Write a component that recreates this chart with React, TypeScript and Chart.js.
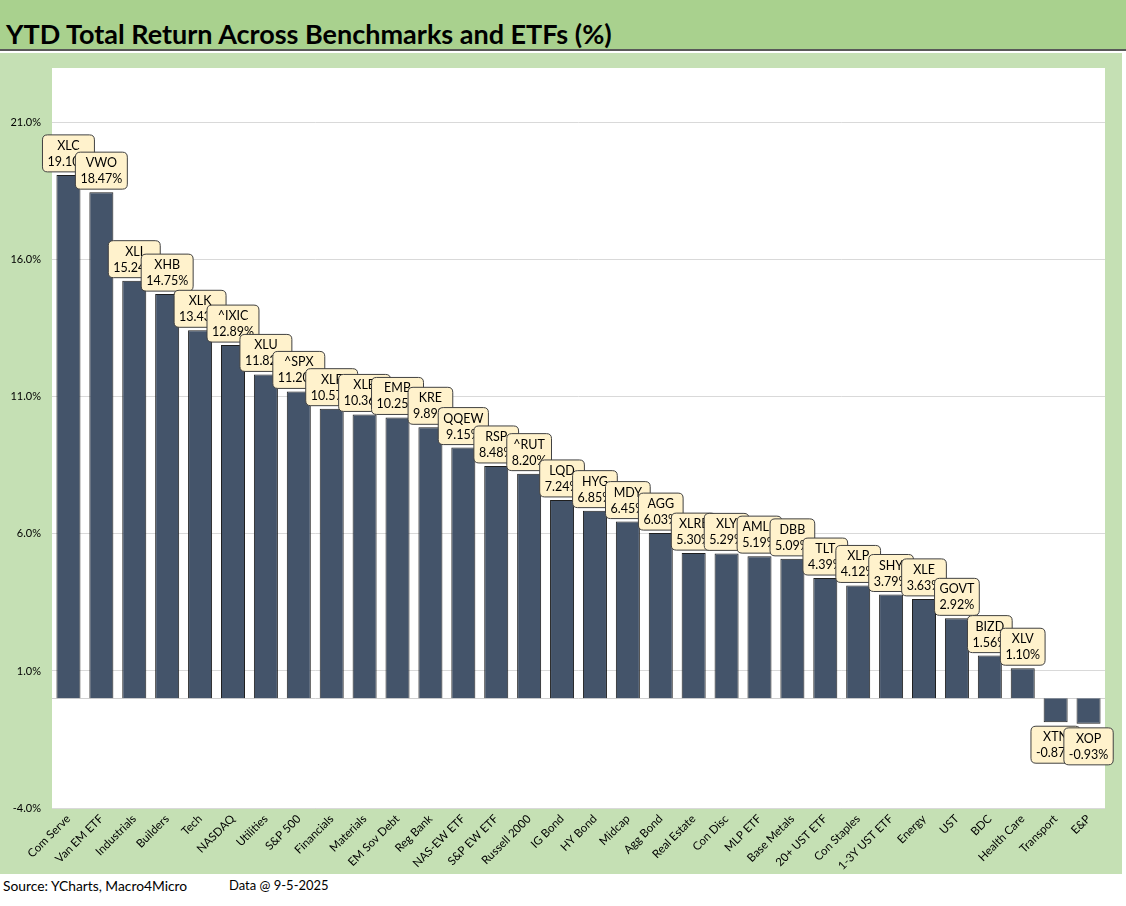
import React, { useEffect, useRef } from "react";
import { Chart, registerables } from "chart.js";

Chart.register(...registerables);

const categories = [
  "Com Serve", "Van EM ETF", "Industrials", "Builders", "Tech", "NASDAQ", "Utilities", "S&P 500",
  "Financials", "Materials", "EM Sov Debt", "Reg Bank", "NAS-EW ETF", "S&P EW ETF", "Russell 2000",
  "IG Bond", "HY Bond", "Midcap", "Agg Bond", "Real Estate", "Con Disc", "MLP ETF", "Base Metals",
  "20+ UST ETF", "Con Staples", "1-3Y UST ETF", "Energy", "UST", "BDC", "Health Care", "Transport", "E&P",
];
const tickers = [
  "XLC", "VWO", "XLI", "XHB", "XLK", "^IXIC", "XLU", "^SPX", "XLF", "XLB", "EMB", "KRE", "QQEW",
  "RSP", "^RUT", "LQD", "HYG", "MDY", "AGG", "XLRE", "XLY", "AMLP", "DBB", "TLT", "XLP", "SHY",
  "XLE", "GOVT", "BIZD", "XLV", "XTN", "XOP",
];
const returns = [
  19.1, 18.47, 15.24, 14.75, 13.43, 12.89, 11.82, 11.2, 10.57, 10.36, 10.25, 9.89, 9.15, 8.48, 8.2,
  7.24, 6.85, 6.45, 6.03, 5.3, 5.29, 5.19, 5.09, 4.39, 4.12, 3.79, 3.63, 2.92, 1.56, 1.1, -0.87, -0.93,
];
const yTicks = [-4, 1, 6, 11, 16, 21];

const FONT = "Lato, 'Open Sans', sans-serif";

const bgPlugin = {
  id: "bgPlugin",
  beforeDraw(chart: any) {
    const { ctx, chartArea } = chart;
    ctx.save();
    ctx.fillStyle = "#ffffff";
    ctx.fillRect(chartArea.left, chartArea.top, chartArea.right - chartArea.left, chartArea.bottom - chartArea.top);
    ctx.restore();
  },
  beforeDatasetsDraw(chart: any) {
    const { ctx, chartArea, scales } = chart;
    const y0 = Math.round(scales.y.getPixelForValue(0)) + 0.5;
    ctx.save();
    ctx.strokeStyle = "#d0d0d0";
    ctx.lineWidth = 1;
    ctx.beginPath();
    ctx.moveTo(chartArea.left, y0);
    ctx.lineTo(chartArea.right, y0);
    ctx.stroke();
    ctx.restore();
  },
};

function roundRect(ctx: CanvasRenderingContext2D, x: number, y: number, w: number, h: number, r: number) {
  ctx.beginPath();
  ctx.moveTo(x + r, y);
  ctx.lineTo(x + w - r, y);
  ctx.quadraticCurveTo(x + w, y, x + w, y + r);
  ctx.lineTo(x + w, y + h - r);
  ctx.quadraticCurveTo(x + w, y + h, x + w - r, y + h);
  ctx.lineTo(x + r, y + h);
  ctx.quadraticCurveTo(x, y + h, x, y + h - r);
  ctx.lineTo(x, y + r);
  ctx.quadraticCurveTo(x, y, x + r, y);
  ctx.closePath();
}

const labelPlugin = {
  id: "labelPlugin",
  afterDatasetsDraw(chart: any) {
    const { ctx } = chart;
    const meta = chart.getDatasetMeta(0);
    ctx.save();
    ctx.font = `12.5px ${FONT}`;
    ctx.textAlign = "center";
    ctx.textBaseline = "middle";
    meta.data.forEach((bar: any, i: number) => {
      const v = returns[i];
      const t1 = tickers[i];
      const t2 = v.toFixed(2) + "%";
      const w = Math.max(ctx.measureText(t1).width, ctx.measureText(t2).width) + 10;
      const h = 37;
      const x = bar.x - w / 2;
      const top = v >= 0 ? bar.y - 3 - h : bar.y + 4;
      roundRect(ctx, x, top, w, h, 5);
      ctx.fillStyle = "#fff2cc";
      ctx.fill();
      ctx.strokeStyle = "#404040";
      ctx.lineWidth = 1;
      ctx.stroke();
      ctx.fillStyle = "#000000";
      ctx.fillText(t1, bar.x, top + 11);
      ctx.fillText(t2, bar.x, top + 27);
    });
    ctx.restore();
  },
};

export default function App() {
  const ref = useRef<HTMLCanvasElement>(null);
  useEffect(() => {
    document.body.style.margin = "0";
    if (!ref.current) return;
    const chart = new Chart(ref.current, {
      type: "bar",
      data: {
        labels: categories,
        datasets: [
          {
            data: returns,
            backgroundColor: "#44546a",
            borderColor: "#1f1f1f",
            borderWidth: 1,
            categoryPercentage: 1,
            barPercentage: 0.73,
          },
        ],
      },
      options: {
        animation: false,
        responsive: false,
        maintainAspectRatio: false,
        layout: { padding: { top: 15, right: 17, left: 0, bottom: 0 } },
        plugins: { legend: { display: false }, tooltip: { enabled: false }, title: { display: false } },
        scales: {
          x: {
            grid: { display: false, drawTicks: false },
            border: { display: false },
            ticks: {
              color: "#000",
              font: { family: FONT, size: 11.5 },
              maxRotation: 45,
              minRotation: 45,
              autoSkip: false,
              padding: 4,
            },
            afterFit(scale: any) {
              scale.height = 66;
              scale.paddingLeft = 0;
              scale.paddingRight = 0;
              scale.paddingTop = 0;
              scale.paddingBottom = 0;
            },
          },
          y: {
            min: -4,
            max: 23,
            grid: { color: "#d9d9d9", drawTicks: false },
            border: { display: false },
            afterBuildTicks(scale: any) {
              scale.ticks = yTicks.map((v) => ({ value: v }));
            },
            ticks: {
              color: "#000",
              font: { family: FONT, size: 11 },
              padding: 11,
              callback: (v: any) => Number(v).toFixed(1) + "%",
            },
            afterFit(scale: any) {
              scale.width = 52;
              scale.paddingTop = 0;
              scale.paddingBottom = 0;
              scale.paddingLeft = 0;
              scale.paddingRight = 0;
            },
          },
        },
      },
      plugins: [bgPlugin, labelPlugin],
    });
    return () => chart.destroy();
  }, []);

  return (
    <div style={{ position: "absolute", left: 0, top: 0, width: 1126, height: 906, background: "#fff", fontFamily: FONT }}>
      <div
        style={{
          position: "absolute",
          left: 0,
          top: 0,
          width: 1126,
          height: 51,
          background: "#a9d18e",
          borderBottom: "2px solid #595959",
          boxSizing: "border-box",
        }}
      >
        <div style={{ position: "absolute", left: 6, top: 18, fontSize: 27, fontWeight: 700, color: "#000", lineHeight: "32px", whiteSpace: "nowrap" }}>
          YTD Total Return Across Benchmarks and ETFs (%)
        </div>
      </div>
      <div style={{ position: "absolute", left: 0, top: 53, width: 1122, height: 821, background: "#c5e0b4" }}>
        <canvas ref={ref} width={1122} height={821} style={{ display: "block" }} />
      </div>
      <div style={{ position: "absolute", left: 3, top: 877, fontSize: 13.8, color: "#000", whiteSpace: "nowrap" }}>Source: YCharts, Macro4Micro</div>
      <div style={{ position: "absolute", left: 229, top: 877, fontSize: 13, color: "#000", whiteSpace: "nowrap" }}>Data @ 9-5-2025</div>
    </div>
  );
}
